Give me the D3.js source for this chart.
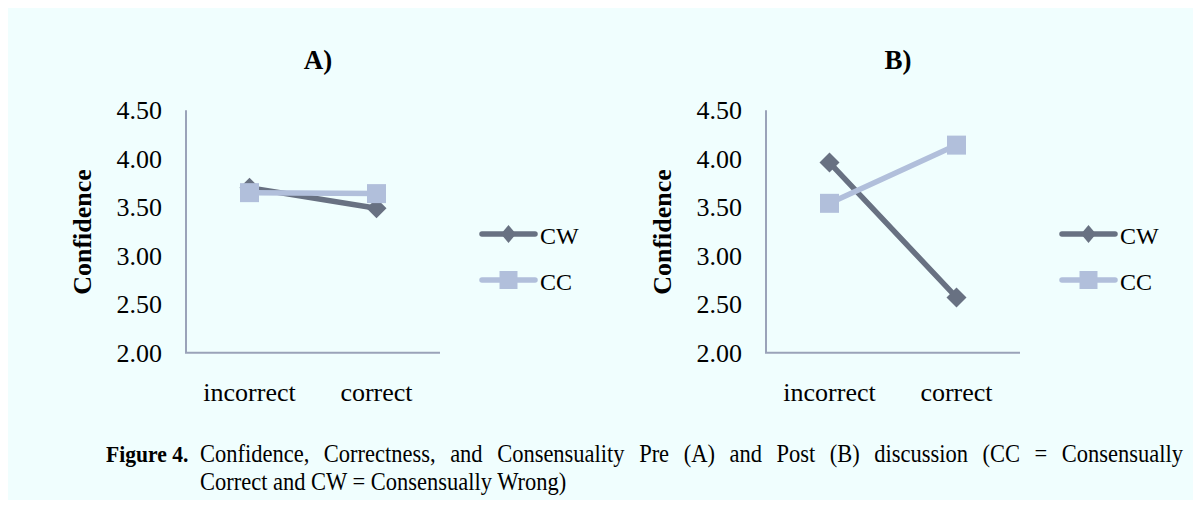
<!DOCTYPE html>
<html>
<head>
<meta charset="utf-8">
<script src="https://cdn.jsdelivr.net/npm/d3@7"></script>
<style>
  html, body { margin: 0; padding: 0; background: #ffffff; }
  svg { display: block; }
  text { font-family: "Liberation Serif", "Times New Roman", serif; fill: #000; }
</style>
</head>
<body>
<svg id="fig" width="1201" height="508"></svg>
<script>
// Categories on the x axis
const categories = ["incorrect", "correct"];
// Series names (legend order)
const seriesNames = ["CW", "CC"];
// Panel A: pre discussion
const preCW = [3.70, 3.49];
const preCC = [3.65, 3.64];
// Panel B: post discussion
const postCW = [3.96, 2.57];
const postCC = [3.54, 4.14];
// Y axis tick labels
const yTicks = [2.00, 2.50, 3.00, 3.50, 4.00, 4.50];
const panelTitles = ["A)", "B)"];

const colors = { CW: "#687182", CC: "#b1bfdb" };

const svg = d3.select("#fig");

// Page background
svg.append("rect")
  .attr("x", 8).attr("y", 8)
  .attr("width", 1185).attr("height", 492)
  .attr("fill", "#f0fefe");

const panels = [
  { title: panelTitles[0], ox: 0, data: { CW: preCW, CC: preCC } },
  { title: panelTitles[1], ox: 580, data: { CW: postCW, CC: postCC } }
];

panels.forEach(p => {
  const g = svg.append("g").attr("transform", `translate(${p.ox},0)`);
  const left = 186, right = 440, top = 110.2, bottom = 352.7;

  const x = d3.scaleBand().domain(categories).range([left, right]);
  const y = d3.scaleLinear().domain([2, 4.5]).range([bottom, top]);

  // Title
  g.append("text")
    .attr("x", 318).attr("y", 69)
    .attr("text-anchor", "middle")
    .attr("font-size", 27).attr("font-weight", "bold")
    .text(p.title);

  // Y axis label
  g.append("text")
    .attr("transform", `translate(91,232) rotate(-90)`)
    .attr("text-anchor", "middle")
    .attr("font-size", 26).attr("font-weight", "bold")
    .text("Confidence");

  // Y axis tick labels
  const yAxis = d3.axisLeft(y).tickValues(yTicks).tickFormat(d3.format(".2f")).tickSize(0).tickPadding(24);
  const ya = g.append("g").attr("transform", `translate(${left},0)`).call(yAxis);
  ya.select(".domain").remove();
  ya.selectAll("text")
    .attr("font-size", 26)
    .attr("font-family", "Liberation Serif, Times New Roman, serif")
    .attr("fill", "#000");

  // X axis labels
  const xAxis = d3.axisBottom(x).tickSize(0).tickPadding(30);
  const xa = g.append("g").attr("transform", `translate(0,${bottom})`).call(xAxis);
  xa.select(".domain").remove();
  xa.selectAll("text")
    .attr("font-size", 26)
    .attr("font-family", "Liberation Serif, Times New Roman, serif")
    .attr("fill", "#000");

  // Axis lines (left and bottom)
  g.append("path")
    .attr("d", `M${left},${top}V${bottom}H${right}`)
    .attr("fill", "none")
    .attr("stroke", "#9aa3b9")
    .attr("stroke-width", 2);

  const cx = c => x(c) + x.bandwidth() / 2;
  const line = d3.line().x((d, i) => cx(categories[i])).y(d => y(d));

  // Each series: line then its markers (CC drawn last, on top)
  seriesNames.forEach(name => {
    const vals = p.data[name];
    const sg = g.append("g");
    sg.append("path")
      .datum(vals)
      .attr("d", line)
      .attr("fill", "none")
      .attr("stroke", colors[name])
      .attr("stroke-width", 5.5)
      .attr("stroke-linecap", "round");
    vals.forEach((v, i) => {
      const px = cx(categories[i]), py = y(v);
      if (name === "CW") {
        sg.append("path")
          .attr("d", `M${px},${py - 10}L${px + 10},${py}L${px},${py + 10}L${px - 10},${py}Z`)
          .attr("fill", colors[name]);
      } else {
        sg.append("rect")
          .attr("x", px - 9.5).attr("y", py - 9.5)
          .attr("width", 19).attr("height", 19)
          .attr("fill", colors[name]);
      }
    });
  });

  // Legend
  const legY = { CW: 234, CC: 280 };
  seriesNames.forEach(name => {
    const ly = legY[name];
    g.append("line")
      .attr("x1", 482).attr("x2", 535)
      .attr("y1", ly).attr("y2", ly)
      .attr("stroke", colors[name])
      .attr("stroke-width", 5.5)
      .attr("stroke-linecap", "round");
    if (name === "CW") {
      g.append("path")
        .attr("d", `M508.5,${ly - 9}L516,${ly}L508.5,${ly + 9}L501,${ly}Z`)
        .attr("fill", colors[name]);
    } else {
      g.append("rect")
        .attr("x", 499.5).attr("y", ly - 9)
        .attr("width", 18).attr("height", 18)
        .attr("fill", colors[name]);
    }
    g.append("text")
      .attr("x", 540).attr("y", ly + 10)
      .attr("font-size", 24)
      .text(name);
  });
});

// Figure caption: hanging indent, first line justified to the right margin
const capSize = 25, capSquash = 0.9;
const textLeft = 200, textRight = 1183;
const cap = svg.append("g");
cap.append("text")
  .attr("transform", `translate(106,462) scale(${capSquash},1)`)
  .attr("font-size", 24).attr("font-weight", "bold")
  .text("Figure 4.");
const line1 = cap.append("text")
  .attr("transform", `translate(${textLeft},462) scale(${capSquash},1)`)
  .attr("font-size", capSize)
  .text("Confidence, Correctness, and Consensuality Pre (A) and Post (B) discussion (CC = Consensually");
const natural = line1.node().getComputedTextLength();
const spaces = line1.text().split(" ").length - 1;
const target = (textRight - textLeft) / capSquash;
line1.attr("word-spacing", Math.max(0, (target - natural) / spaces));
cap.append("text")
  .attr("transform", `translate(${textLeft},490) scale(${capSquash},1)`)
  .attr("font-size", capSize)
  .text("Correct and CW = Consensually Wrong)");
</script>
</body>
</html>
